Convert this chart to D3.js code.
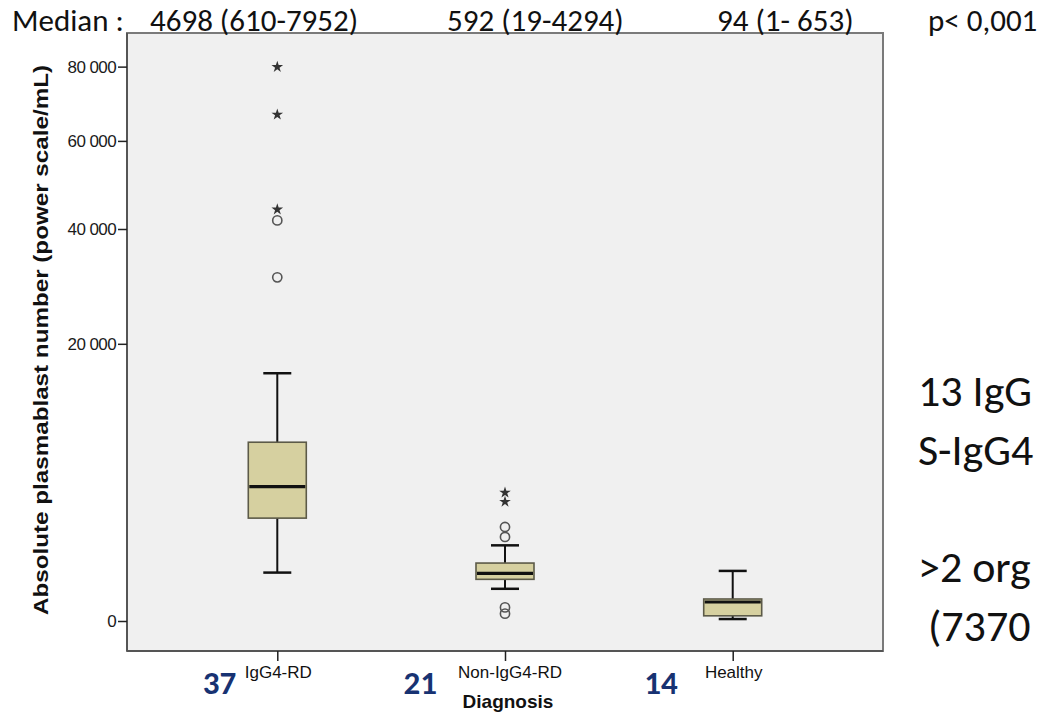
<!DOCTYPE html>
<html>
<head>
<meta charset="utf-8">
<script src="https://cdn.jsdelivr.net/npm/d3@7"></script>
<style>
    html, body { margin: 0; padding: 0; background: #fff; }
    svg { display: block; }
    .calibri { font-family: Carlito, "Open Sans", sans-serif; }
    .arial { font-family: "Liberation Sans", Arial, sans-serif; }
</style>
</head>
<body>
<svg id="chart" width="1039" height="715"></svg>
<script>
// Box plot data (power scale y axis)
const groups = ['IgG4-RD', 'Non-IgG4-RD', 'Healthy'];
const counts = [37, 21, 14];
const medianLabels = ['4698 (610-7952)', '592 (19-4294)', '94 (1- 653)'];
const whiskerLow = [610, 270, 1];
const q1 = [2755, 452, 7];
const medians = [4698, 592, 94];
const q3 = [8320, 874, 126];
const whiskerHigh = [15980, 1490, 653];
const circleOutliers = [[0, 30740], [0, 41770], [1, 2300], [1, 1840], [1, 48], [1, 14]];
const starOutliers = [[0, 44090], [0, 66760], [0, 79900], [1, 4294], [1, 3700]];
const yTicks = [0, 20000, 40000, 60000, 80000];
const sideNotes = ['13 IgG', 'S-IgG4', '', '>2 org', ' (7370'];

(function() {
    const svg = d3.select('#chart');
    const frame = { left: 127, top: 33, right: 883, bottom: 651 };

    const x = d3.scalePoint()
        .domain(groups)
        .range([frame.left, frame.right])
        .padding(0.66);

    const y = d3.scaleSqrt()
        .domain([0, 90000])
        .range([frame.bottom - 30, frame.top]);

    const fmt = d3.formatLocale({ decimal: ',', thousands: ' ', grouping: [3], currency: ['', ''] }).format(',d');

    // Plot background + frame
    svg.append('rect')
        .attr('x', frame.left).attr('y', frame.top)
        .attr('width', frame.right - frame.left)
        .attr('height', frame.bottom - frame.top)
        .attr('fill', '#f0f0f0')
        .attr('stroke', '#7a7a7a')
        .attr('stroke-width', 2);

    // Y axis
    const yAxis = svg.append('g')
        .attr('transform', `translate(${frame.left},0)`)
        .call(d3.axisLeft(y).tickValues(yTicks).tickSize(9).tickPadding(2).tickFormat(fmt));
    yAxis.select('.domain')
        .attr('d', `M0,${frame.top}V${frame.bottom}`)
        .attr('stroke', '#555').attr('stroke-width', 2);
    yAxis.selectAll('.tick line').attr('stroke', '#222').attr('stroke-width', 1.5);
    yAxis.selectAll('.tick text')
        .attr('class', 'arial')
        .style('font-size', '17px')
        .style('letter-spacing', '-0.6px')
        .attr('fill', '#1a1a1a');

    // X axis
    const xAxis = svg.append('g')
        .attr('transform', `translate(0,${frame.bottom})`)
        .call(d3.axisBottom(x).tickSize(10).tickFormat(''));
    xAxis.select('.domain')
        .attr('d', `M${frame.left},0H${frame.right}`)
        .attr('stroke', '#555').attr('stroke-width', 2);
    xAxis.selectAll('.tick line').attr('stroke', '#222').attr('stroke-width', 1.5);

    // X category labels
    svg.append('g').selectAll('text')
        .data(groups)
        .join('text')
        .attr('class', 'arial')
        .attr('x', (d, i) => x(d) + [1, 5, 1][i])
        .attr('y', 678)
        .attr('text-anchor', 'middle')
        .style('font-size', '17px')
        .attr('fill', '#111')
        .text(d => d);

    // Group sizes (navy)
    const countDx = [-41, -68, -55];
    svg.append('g').selectAll('text')
        .data(counts)
        .join('text')
        .attr('class', 'calibri')
        .attr('x', (d, i) => x(groups[i]) + countDx[i])
        .attr('y', 694)
        .attr('text-anchor', 'end')
        .style('font-size', '33px')
        .style('font-weight', 'bold')
        .attr('fill', '#173272')
        .text(d => d);

    svg.append('text')
        .attr('class', 'arial')
        .attr('x', 508).attr('y', 708)
        .attr('text-anchor', 'middle')
        .style('font-size', '19px')
        .style('font-weight', 'bold')
        .attr('fill', '#111')
        .text('Diagnosis');

    // Y axis title
    svg.append('text')
        .attr('class', 'arial')
        .attr('transform', 'translate(48,340) rotate(-90)')
        .attr('text-anchor', 'middle')
        .attr('textLength', 550)
        .attr('lengthAdjust', 'spacingAndGlyphs')
        .style('font-size', '20px')
        .style('font-weight', 'bold')
        .attr('fill', '#111')
        .text('Absolute plasmablast number (power scale/mL)');

    // Boxes
    const boxW = 58, capW = 28;
    const boxes = svg.append('g').selectAll('g')
        .data(groups)
        .join('g')
        .attr('transform', d => `translate(${x(d)},0)`);

    boxes.append('line')
        .attr('y1', (d, i) => y(whiskerHigh[i]))
        .attr('y2', (d, i) => y(q3[i]))
        .attr('stroke', '#111').attr('stroke-width', 2);
    boxes.append('line')
        .attr('y1', (d, i) => y(q1[i]))
        .attr('y2', (d, i) => y(whiskerLow[i]))
        .attr('stroke', '#111').attr('stroke-width', 2);
    boxes.append('line')
        .attr('x1', -capW / 2).attr('x2', capW / 2)
        .attr('y1', (d, i) => y(whiskerHigh[i]))
        .attr('y2', (d, i) => y(whiskerHigh[i]))
        .attr('stroke', '#111').attr('stroke-width', 2.5);
    boxes.append('line')
        .attr('x1', -capW / 2).attr('x2', capW / 2)
        .attr('y1', (d, i) => y(whiskerLow[i]))
        .attr('y2', (d, i) => y(whiskerLow[i]))
        .attr('stroke', '#111').attr('stroke-width', 2.5);
    boxes.append('rect')
        .attr('x', -boxW / 2)
        .attr('width', boxW)
        .attr('y', (d, i) => y(q3[i]))
        .attr('height', (d, i) => y(q1[i]) - y(q3[i]))
        .attr('fill', '#d6d0a0')
        .attr('stroke', '#5c5a48')
        .attr('stroke-width', 1.6);
    boxes.append('line')
        .attr('x1', -boxW / 2 + 1).attr('x2', boxW / 2 - 1)
        .attr('y1', (d, i) => y(medians[i]))
        .attr('y2', (d, i) => y(medians[i]))
        .attr('stroke', '#111').attr('stroke-width', 3.2);

    // Outliers
    svg.append('g').selectAll('circle')
        .data(circleOutliers)
        .join('circle')
        .attr('cx', d => x(groups[d[0]]))
        .attr('cy', d => y(d[1]))
        .attr('r', 4.6)
        .attr('fill', 'none')
        .attr('stroke', '#555')
        .attr('stroke-width', 1.6);

    const star = d3.symbol().type(d3.symbolStar).size(42);
    svg.append('g').selectAll('path')
        .data(starOutliers)
        .join('path')
        .attr('transform', d => `translate(${x(groups[d[0]])},${y(d[1])})`)
        .attr('d', star)
        .attr('fill', '#333');

    // Header: medians
    const medianX = [150, 447, 717];
    svg.append('text')
        .attr('class', 'calibri')
        .attr('x', 12).attr('y', 31)
        .style('font-size', '31px')
        .attr('fill', '#111')
        .text('Median :');
    svg.append('g').selectAll('text')
        .data(medianLabels)
        .join('text')
        .attr('class', 'calibri')
        .attr('x', (d, i) => medianX[i])
        .attr('y', 31)
        .style('font-size', '31px')
        .attr('fill', '#111')
        .text(d => d);
    svg.append('text')
        .attr('class', 'calibri')
        .attr('x', 928).attr('y', 31)
        .style('font-size', '31px')
        .attr('fill', '#111')
        .text('p< 0,001');

    // Side notes (cut off at right edge)
    svg.append('g').selectAll('text')
        .data(sideNotes)
        .join('text')
        .attr('class', 'calibri')
        .attr('x', 918)
        .attr('y', (d, i) => 406 + i * 58.7)
        .style('font-size', '44px')
        .style('white-space', 'pre')
        .attr('xml:space', 'preserve')
        .attr('fill', '#111')
        .text(d => d);
})();
</script>
</body>
</html>
